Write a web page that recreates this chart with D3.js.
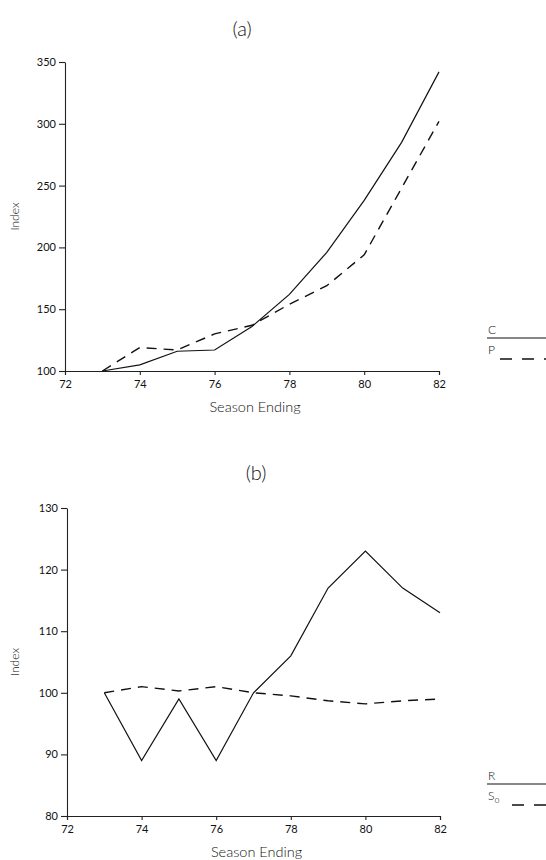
<!DOCTYPE html>
<html><head><meta charset="utf-8">
<script src="https://cdn.jsdelivr.net/npm/d3@7"></script>
<style>
body{margin:0;background:#fff;}
text{font-family:Lato,"DejaVu Sans",sans-serif;font-weight:400;fill:#111;}
</style></head>
<body><svg id="c" width="546" height="860"></svg>
<script>
const years = [73,74,75,76,77,78,79,80,81,82];
const seriesC = [100,105,116,117,136,162,196,238,285,342];
const seriesP = [100,119,117,130,137,154,169,194,248,302];
const seriesR = [100,89,99,89,100,106,117,123,117,113];
const seriesS0 = [100,101,100.3,101,100,99.5,98.7,98.2,98.7,99];
const xTicks = [72,74,76,78,80,82];
const yTicksA = [100,150,200,250,300,350];
const yTicksB = [80,90,100,110,120,130];

const svg = d3.select("#c");

function panel(cfg){
  const x = d3.scaleLinear().domain([72,82]).range(cfg.xr);
  const y = d3.scaleLinear().domain(cfg.yd).range(cfg.yr);
  const g = svg.append("g");
  const xa = g.append("g").attr("transform",`translate(0,${cfg.yr[0]})`)
    .call(d3.axisBottom(x).tickValues(xTicks).tickSize(4).tickPadding(5).tickFormat(d3.format("d")));
  const ya = g.append("g").attr("transform",`translate(${cfg.xr[0]},0)`)
    .call(d3.axisLeft(y).tickValues(cfg.yt).tickSize(6).tickPadding(3).tickSizeOuter(0).tickFormat(d3.format("d")));
  [xa,ya].forEach(a=>{
    a.select(".domain").attr("stroke","#222").attr("stroke-width",1.1);
    a.selectAll(".tick line").attr("stroke","#222").attr("stroke-width",1.1);
    a.selectAll("text").style("font-size","11px").attr("fill","#111");
  });
  const line = d3.line().x((d,i)=>x(years[i])).y(d=>y(d));
  g.append("path").datum(cfg.s1).attr("d",line).attr("fill","none").attr("stroke","#111").attr("stroke-width",1.2);
  g.append("path").datum(cfg.s2).attr("d",line).attr("fill","none").attr("stroke","#111").attr("stroke-width",1.4).attr("stroke-dasharray","10,7");
  g.append("text").attr("x",cfg.tx).attr("y",cfg.ty).attr("text-anchor","middle").style("font-size","20px").style("font-weight","300").text(cfg.title);
  g.append("text").attr("x",(cfg.xr[0]+cfg.xr[1])/2+3).attr("y",cfg.yr[0]+41).attr("text-anchor","middle").style("font-size","14.5px").style("font-weight","300").text("Season Ending");
  g.append("text").attr("transform",`translate(19,${(cfg.yr[0]+cfg.yr[1])/2}) rotate(-90)`).attr("text-anchor","middle").style("font-size","12px").style("font-weight","300").text("Index");
  const lg = g.append("g");
  lg.append("text").attr("x",488).attr("y",cfg.ly).style("font-size","12px").style("font-weight","300").text(cfg.leg[0]);
  lg.append("line").attr("x1",487).attr("x2",546).attr("y1",cfg.ly+4).attr("y2",cfg.ly+4).attr("stroke","#111").attr("stroke-width",1.2);
  const t2 = lg.append("text").attr("x",488).attr("y",cfg.ly+20).style("font-size","12px").style("font-weight","300").text(cfg.leg[1]);
  if(cfg.sub) t2.append("tspan").attr("dy",3).style("font-size","9px").text(cfg.sub);
  lg.append("line").attr("x1",cfg.sub?512:500).attr("x2",546).attr("y1",cfg.ly+25).attr("y2",cfg.ly+25).attr("stroke","#111").attr("stroke-width",1.3).attr("stroke-dasharray","12,10");
}

panel({xr:[65,439], yr:[371,62], yd:[100,350], yt:yTicksA, s1:seriesC, s2:seriesP,
  title:"(a)", tx:242, ty:36, leg:["C","P"], ly:334});
panel({xr:[67,440], yr:[816,508], yd:[80,130], yt:yTicksB, s1:seriesR, s2:seriesS0,
  title:"(b)", tx:256, ty:480, leg:["R","S"], sub:"o", ly:780});
</script></body></html>
